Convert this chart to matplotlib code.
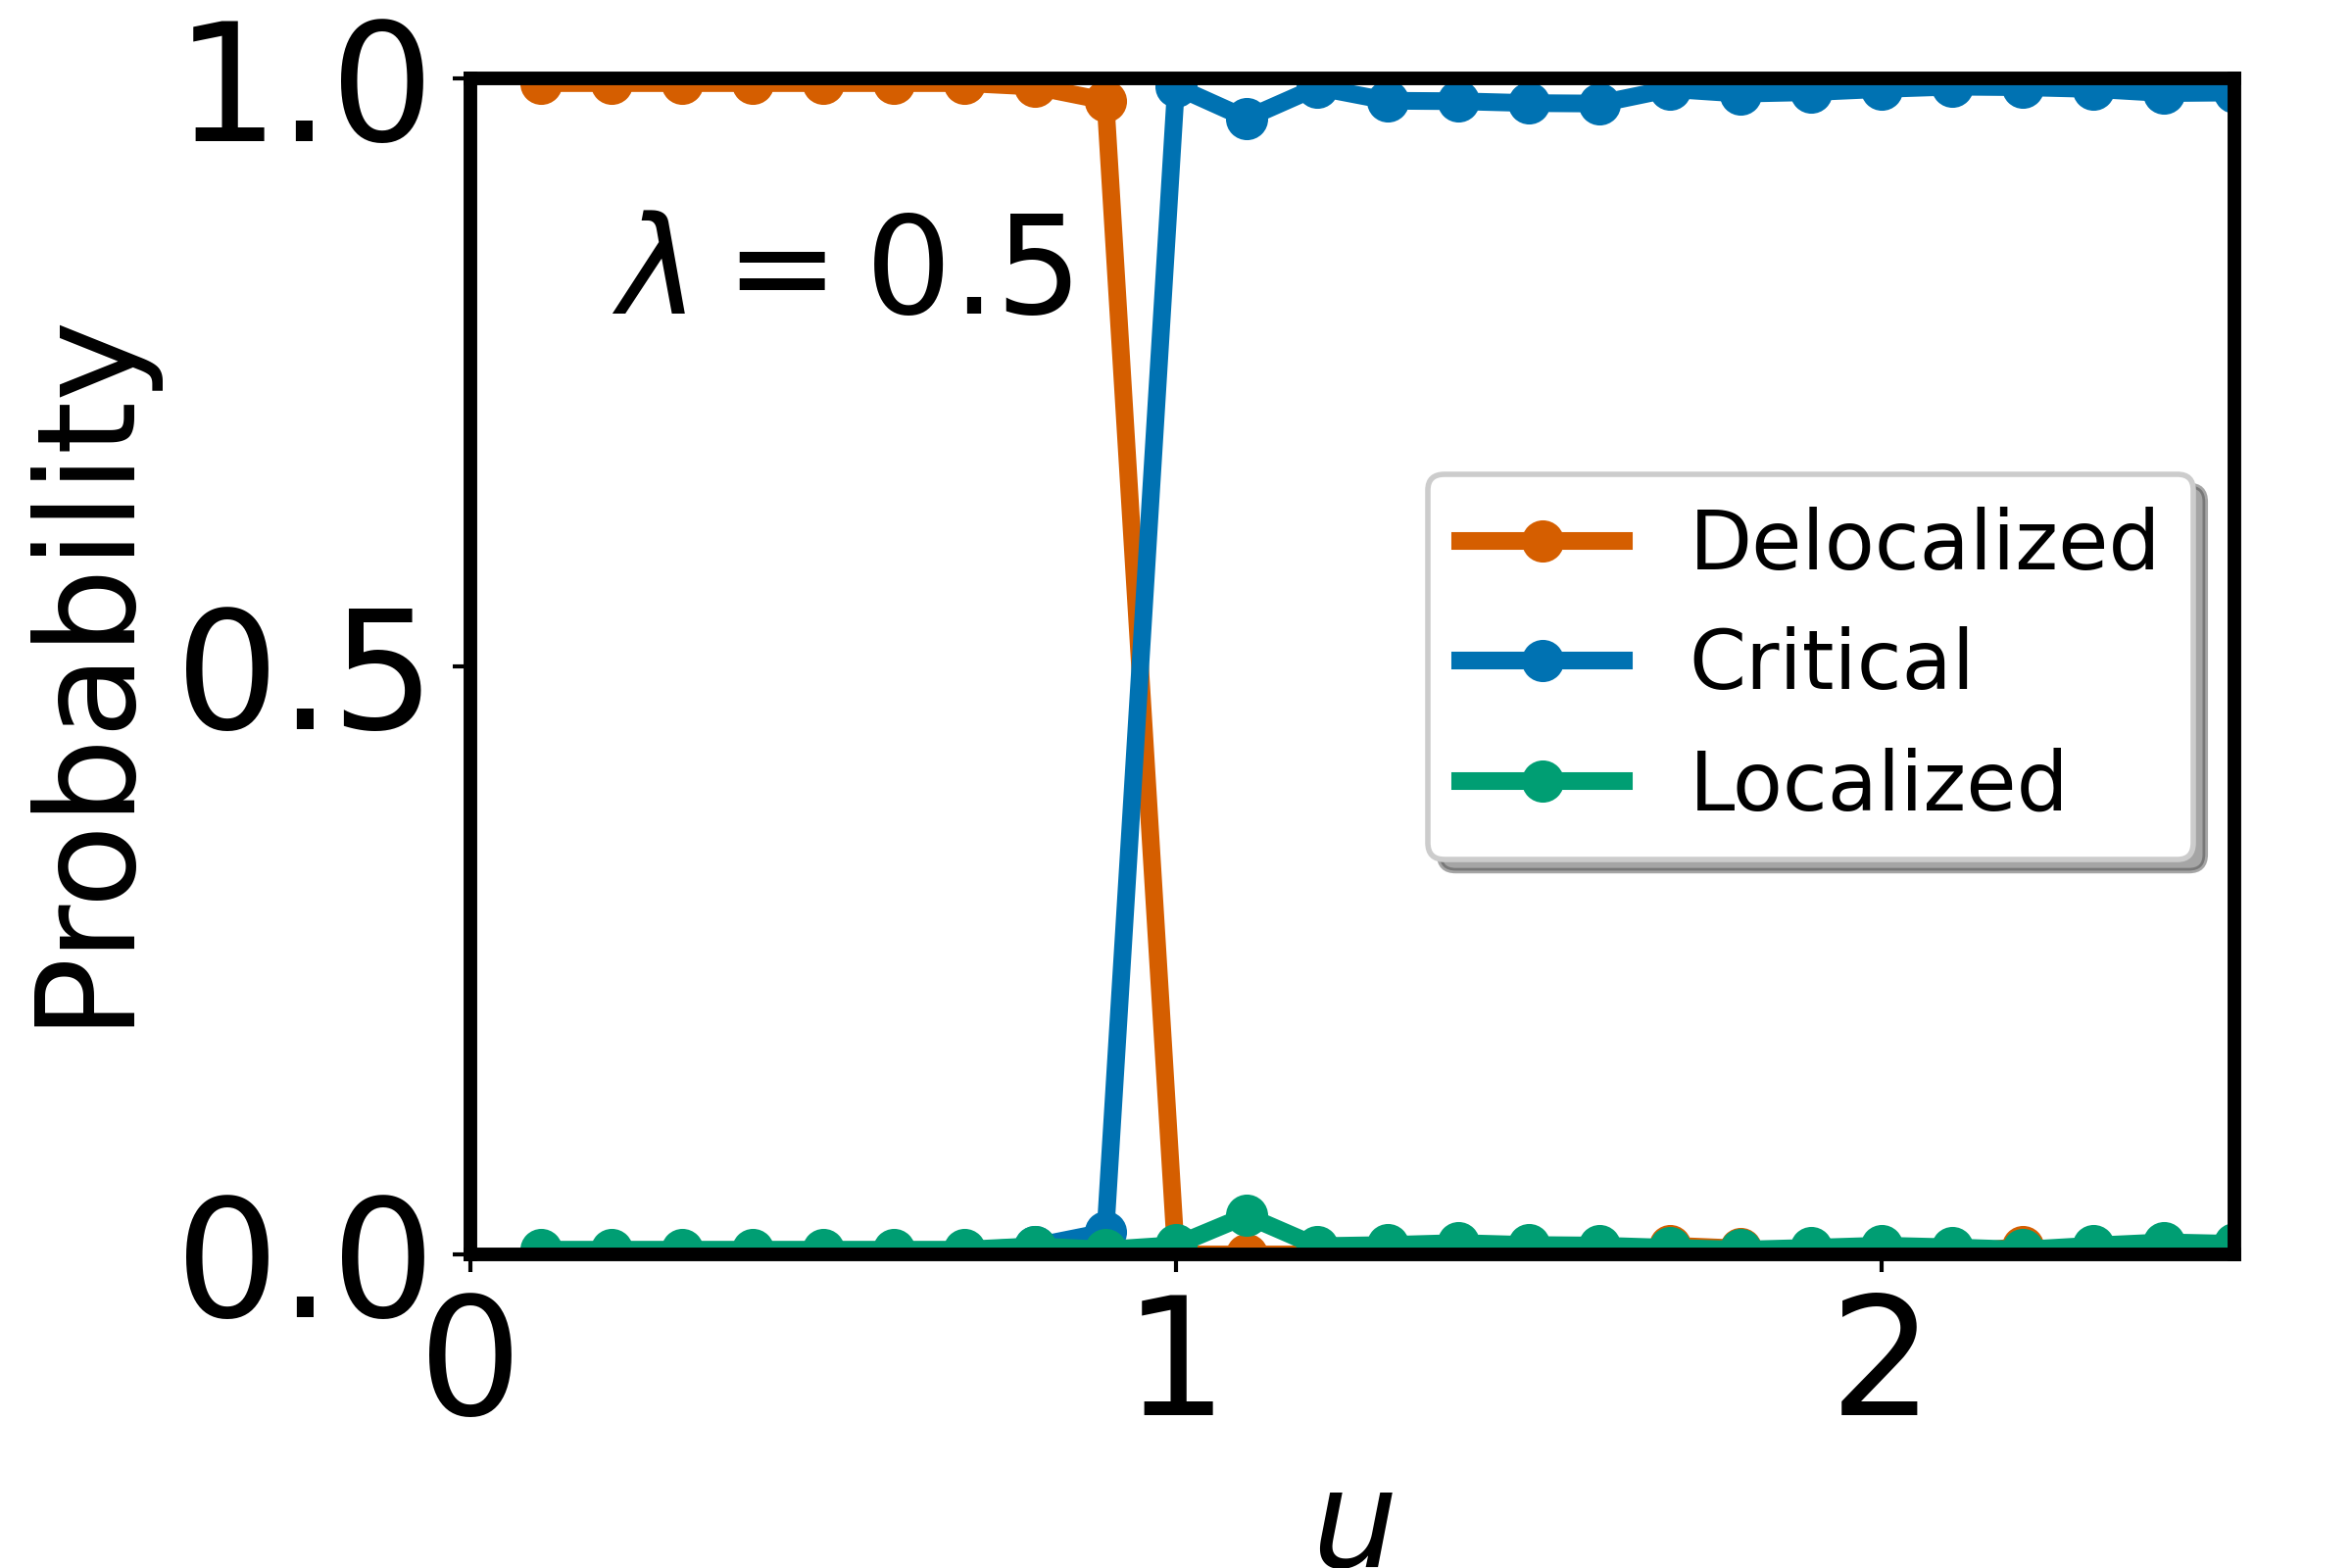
import matplotlib
matplotlib.use("Agg")
import matplotlib.pyplot as plt
from matplotlib.patches import Shadow

u_values = [0.1, 0.2, 0.3, 0.4, 0.5, 0.6, 0.7, 0.8, 0.9, 1.0,
            1.1, 1.2, 1.3, 1.4, 1.5, 1.6, 1.7, 1.8, 1.9, 2.0,
            2.1, 2.2, 2.3, 2.4, 2.5]

delocalized = [0.996, 0.996, 0.996, 0.996, 0.996, 0.996, 0.996, 0.993, 0.981, 0.0,
               0.0, 0.0, 0.0, 0.0, 0.0, 0.0, 0.0075, 0.005, 0.0, 0.0,
               0.0, 0.007, 0.0, 0.0, 0.0]

critical = [0.002, 0.002, 0.002, 0.002, 0.002, 0.003, 0.003, 0.007, 0.019, 0.993,
            0.966, 0.9925, 0.981, 0.9806, 0.979, 0.9786, 0.991, 0.987, 0.9883, 0.991,
            0.993, 0.9925, 0.991, 0.9875, 0.988]

localized = [0.004, 0.004, 0.004, 0.004, 0.004, 0.004, 0.004, 0.007, 0.004, 0.008,
             0.033, 0.007, 0.008, 0.0097, 0.008, 0.0075, 0.0056, 0.004, 0.0056, 0.0075,
             0.006, 0.004, 0.0075, 0.0103, 0.009]

series_names = ["Delocalized", "Critical", "Localized"]
series_colors = ["#D55E00", "#0072B2", "#009E73"]

x_ticks = [0, 1, 2]
y_ticks = [0.0, 0.5, 1.0]

fig = plt.figure(figsize=(12, 8), dpi=200)
ax = fig.add_axes([0.2, 0.2, 0.75, 0.75])

for vals, name, col in zip([delocalized, critical, localized], series_names, series_colors):
    ax.plot(u_values, vals, "-o", color=col, label=name, linewidth=6.5, markersize=14.5)

ax.set_xlim(0, 2.5)
ax.set_ylim(0, 1)
ax.set_xticks(x_ticks)
ax.set_yticks(y_ticks)
ax.set_xticklabels([str(t) for t in x_ticks])
ax.set_yticklabels([f"{t:.1f}" for t in y_ticks])
ax.tick_params(axis="both", direction="out", length=6.5, width=1.5, pad=6.5, labelsize=60)

for sp in ax.spines.values():
    sp.set_linewidth(5)
    sp.set_color("black")

ax.set_ylabel("Probability", fontsize=50, labelpad=9)
ax.set_xlabel("$u$", fontsize=50, labelpad=5)

ax.text(0.08, 0.8, r"$\lambda = 0.5$", transform=ax.transAxes, fontsize=50, va="baseline", ha="left")

leg = ax.legend(loc="center right", fontsize=30, shadow=False, fancybox=True, framealpha=1.0)
leg.get_frame().set_linewidth(2.0)
leg.get_frame().set_edgecolor("#cccccc")

fig.canvas.draw()
sh = Shadow(leg.legendPatch, 4.3, -4.3)
sh.set_zorder(4.9)
ax.add_artist(sh)

fig.savefig("out.png", dpi=200)
